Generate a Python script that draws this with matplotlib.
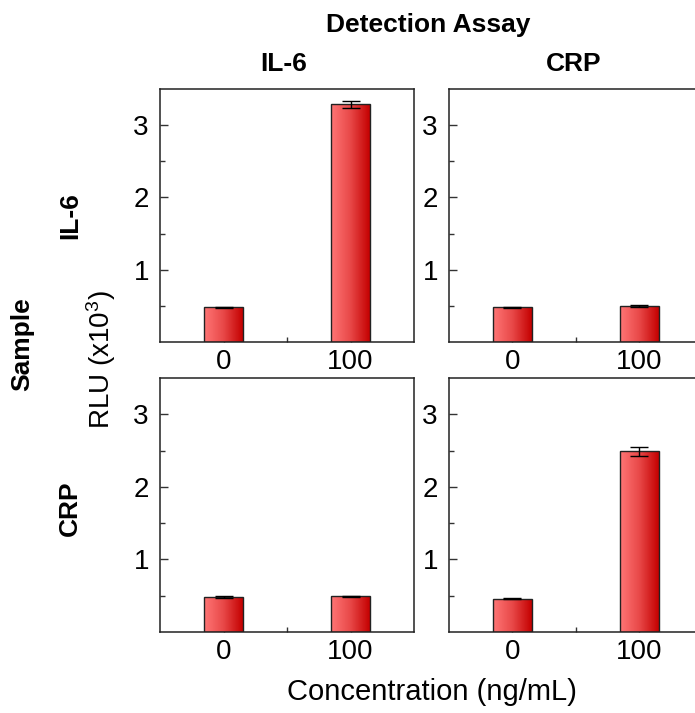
import numpy as np
import matplotlib
matplotlib.use('Agg')
import matplotlib.pyplot as plt
from matplotlib.colors import LinearSegmentedColormap

plt.rcParams['font.family'] = ['Liberation Sans', 'DejaVu Sans']
plt.rcParams['mathtext.fontset'] = 'custom'
plt.rcParams['mathtext.rm'] = 'Liberation Sans'
plt.rcParams['mathtext.it'] = 'Liberation Sans'

# data (RLU x10^3)
conc_labels = ['0', '100']
assays = ['IL-6', 'CRP']
samples = ['IL-6', 'CRP']

il6_il6 = [0.48, 3.29]
il6_il6_err = [0.01, 0.05]
il6_crp = [0.48, 0.50]
il6_crp_err = [0.01, 0.01]
crp_il6 = [0.48, 0.49]
crp_il6_err = [0.015, 0.01]
crp_crp = [0.46, 2.49]
crp_crp_err = [0.01, 0.065]

W, H = 695, 713
fig = plt.figure(figsize=(W / 100, H / 100), dpi=100)

def px_axes(x0, y0, x1, y1):
    return fig.add_axes([x0 / W, 1 - y1 / H, (x1 - x0) / W, (y1 - y0) / H])

cmap = LinearSegmentedColormap.from_list('red', ['#ff7676', '#e84848', '#c40000'])
grad = np.linspace(0, 1, 256).reshape(1, -1)

def panel(ax, vals, errs):
    x = np.arange(len(vals))
    bars = ax.bar(x, vals, width=0.3, facecolor='none', edgecolor='#222222',
                  linewidth=1.0, zorder=3)
    for b in bars:
        bx, by = b.get_x(), b.get_y()
        im = ax.imshow(grad, cmap=cmap, aspect='auto', zorder=2,
                       extent=[bx, bx + b.get_width(), by, by + b.get_height()])
        im.set_clip_path(b)
    ax.errorbar(x, vals, yerr=errs, fmt='none', ecolor='black', elinewidth=1.0,
                capsize=6.5, capthick=1.0, zorder=4)
    ax.set_xlim(-0.5, 1.5)
    ax.set_ylim(0, 3.5)
    ax.set_xticks(x)
    ax.set_xticklabels(conc_labels)
    ax.set_xticks([0.5], minor=True)
    ax.set_yticks([1, 2, 3])
    ax.set_yticks([0.5, 1.5, 2.5], minor=True)
    ax.tick_params(which='both', direction='in', width=1.0, color='#333333',
                   labelsize=20, top=False, right=False)
    ax.tick_params(which='major', length=6)
    ax.tick_params(which='minor', length=3.5)
    ax.tick_params(axis='y', pad=8)
    ax.tick_params(axis='x', pad=5)
    for s in ax.spines.values():
        s.set_linewidth(1.1)
        s.set_color('#222222')

ax1 = px_axes(160, 89, 414, 342)
ax2 = px_axes(449, 89, 703, 342)
ax3 = px_axes(160, 378, 414, 632)
ax4 = px_axes(449, 378, 703, 632)

panel(ax1, il6_il6, il6_il6_err)
panel(ax2, il6_crp, il6_crp_err)
panel(ax3, crp_il6, crp_il6_err)
panel(ax4, crp_crp, crp_crp_err)

def t(x, y, s, **kw):
    fig.text(x / W, 1 - y / H, s, ha='center', va='center', **kw)

t(428, 25, 'Detection Assay', fontsize=19, fontweight='bold')
t(284, 64, assays[0], fontsize=19, fontweight='bold')
t(574, 64, assays[1], fontsize=19, fontweight='bold')
t(70, 216, samples[0], fontsize=19, fontweight='bold', rotation=90)
t(70, 508, samples[1], fontsize=19, fontweight='bold', rotation=90)
t(22, 344, 'Sample', fontsize=19, fontweight='bold', rotation=90)
t(101, 360, r'RLU (x10$^{\mathrm{3}}$)', fontsize=20, rotation=90)
t(432, 692, 'Concentration (ng/mL)', fontsize=21)

fig.savefig('out.png', dpi=100)
